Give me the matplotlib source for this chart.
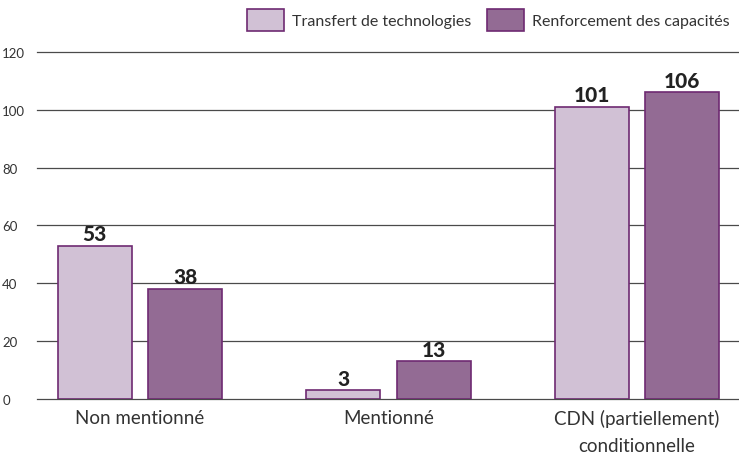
import matplotlib.pyplot as plt
import numpy as np

plt.rcParams['font.family'] = ['Lato', 'DejaVu Sans']

categories = ["Non mentionné", "Mentionné", "CDN (partiellement)\nconditionnelle"]
transfert = [53, 3, 101]
renforcement = [38, 13, 106]
series_names = ["Transfert de technologies", "Renforcement des capacités"]

fig = plt.figure(figsize=(7.39, 4.56), dpi=100)
ax = fig.add_axes([0.050, 0.1228, 0.950, 0.761])

x = np.arange(len(categories))
w = 0.298
off = 0.182
edge = "#6e2a72"
b1 = ax.bar(x - off, transfert, w, color="#d1c1d5", edgecolor=edge, linewidth=1.2,
            label=series_names[0], zorder=3)
b2 = ax.bar(x + off, renforcement, w, color="#936b94", edgecolor=edge, linewidth=1.2,
            label=series_names[1], zorder=3)

for bars in (b1, b2):
    ax.bar_label(bars, padding=2, fontsize=15, fontweight="black", color="#222222")

ax.set_ylim(0, 120)
ax.set_xlim(-0.415, 2.41)
ax.set_yticks(range(0, 121, 20))
ax.yaxis.grid(True, color="#4a4a4a", linewidth=0.9, zorder=0)
for gl in ax.get_ygridlines():
    gl.set_clip_on(False)
ax.set_axisbelow(True)
for s in ax.spines.values():
    s.set_visible(False)
ax.tick_params(axis="y", length=0, pad=25, labelsize=9.5, colors="#333333")
ax.tick_params(axis="x", length=0, pad=7, labelsize=13.5, colors="#333333")
ax.set_xticks(x)
ax.set_xticklabels(categories, linespacing=1.75)
for lab in ax.get_yticklabels():
    lab.set_horizontalalignment("left")

fig.legend(loc="upper right", bbox_to_anchor=(1.0, 1.0), ncol=2, frameon=False,
           fontsize=11.5, handlelength=2.3, handleheight=1.8, columnspacing=1.0,
           handletextpad=0.5, borderaxespad=0.2, labelcolor="#333333")

fig.savefig("out.png", dpi=100)
